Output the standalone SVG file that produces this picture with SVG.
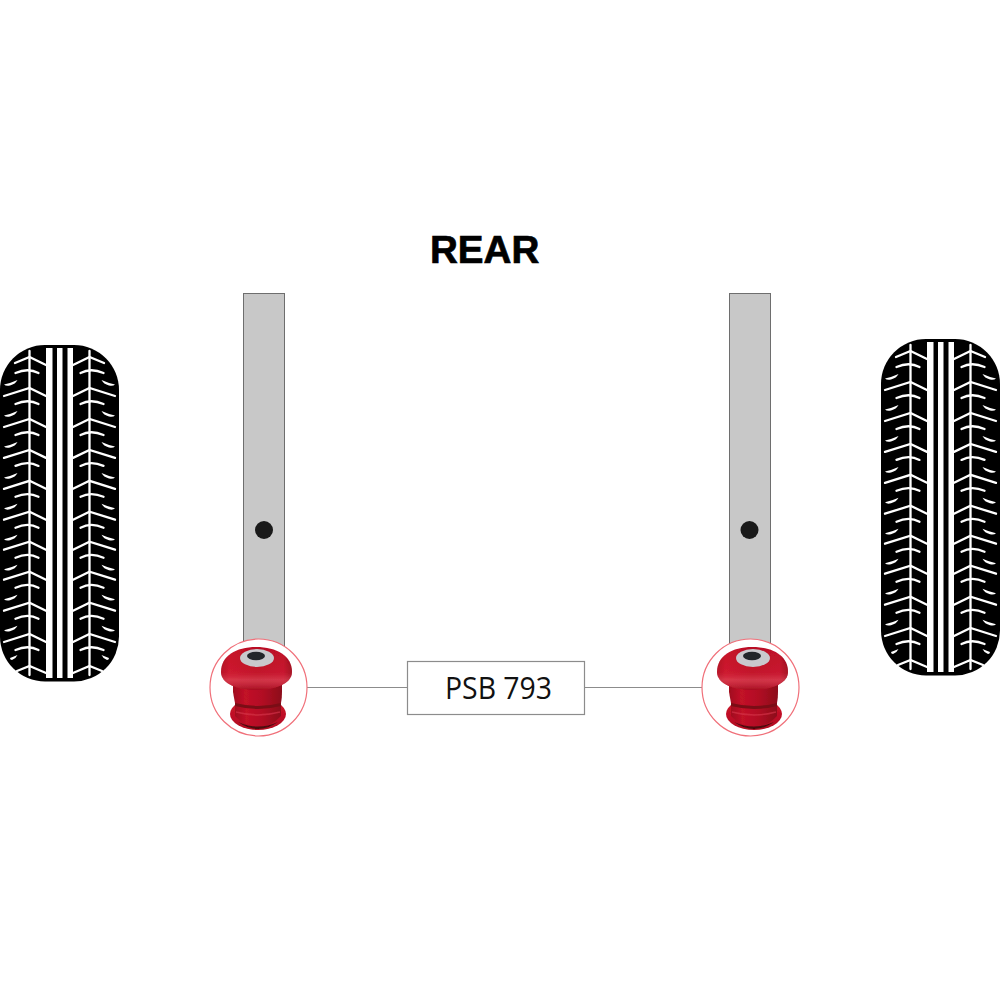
<svg xmlns="http://www.w3.org/2000/svg" width="1000" height="1000" viewBox="0 0 1000 1000">
<style>
.tl{fill:none;stroke:#fff;stroke-width:2.300;stroke-linecap:round;stroke-linejoin:miter}
.tf{fill:#fff}
.post{fill:#c8c8c8;stroke:#6e6e6e;stroke-width:1}
.hole{fill:#1a1a1a}
.ring{fill:#fff;stroke:#f0707a;stroke-width:1.200}
.conn{fill:none;stroke:#8c8c8c;stroke-width:1.200}
.title{font-family:"Liberation Sans",Arial,sans-serif;font-weight:700;font-size:38.600px;fill:#000;stroke:#000;stroke-width:.7}
.lab{font-family:"Open Sans","Noto Sans",sans-serif;font-size:30.500px;fill:#111}
</style>
<defs>
<linearGradient id="capG" x1="0" y1="0" x2="1" y2="0"><stop offset="0" stop-color="#a80e20"/><stop offset=".12" stop-color="#c8142a"/><stop offset=".5" stop-color="#b80f24"/><stop offset=".88" stop-color="#c0122a"/><stop offset="1" stop-color="#8e0a1a"/></linearGradient>
<linearGradient id="capV" x1="0" y1="0" x2="0" y2="1"><stop offset="0" stop-color="#c8112a" stop-opacity="0"/><stop offset=".6" stop-color="#d8283c" stop-opacity=".35"/><stop offset=".76" stop-color="#e85868" stop-opacity=".5"/><stop offset="1" stop-color="#a00c1e" stop-opacity=".8"/></linearGradient>
<linearGradient id="bodyG" x1="0" y1="0" x2="1" y2="0"><stop offset="0" stop-color="#a00c1e"/><stop offset=".25" stop-color="#c21228"/><stop offset=".6" stop-color="#b20e24"/><stop offset="1" stop-color="#8c0a1a"/></linearGradient>
<linearGradient id="flG" x1="0" y1="0" x2="0" y2="1"><stop offset="0" stop-color="#d0142c"/><stop offset="1" stop-color="#b00e22"/></linearGradient>
<filter id="soft" x="-10%" y="-10%" width="120%" height="120%"><feGaussianBlur stdDeviation=".7"/></filter>
<g id="unit">
<path class="tl" d="M4 8L29.500 0L46 8"/>
<path class="tl" d="M15.500 16Q28 10.500 38.500 16"/>
<path class="tf" d="M4 27.500Q11 26 17.500 23Q15.500 27 10 28.500Q6 29.500 4 27.500Z"/>
</g>
<g id="half">
<path class="tl" d="M29.500 351V675"/>
<path class="tl" d="M15 363L29.500 357L46 365"/>
<path class="tl" d="M15.500 373Q28 367.500 38.500 373"/>
<path class="tf" d="M4 384.500Q11 383 17.500 380Q15.500 384 10 385.500Q6 386.500 4 384.500Z"/>
<use href="#unit" y="388"/>
<use href="#unit" y="419"/>
<use href="#unit" y="449.900"/>
<use href="#unit" y="480.800"/>
<use href="#unit" y="511.700"/>
<use href="#unit" y="541.700"/>
<use href="#unit" y="571.700"/>
<use href="#unit" y="602.700"/>
<path class="tl" d="M4 642L29.500 634L46 642"/>
<path class="tl" d="M15.500 650Q28 644.500 38.500 650"/>
<path class="tf" d="M10 658Q14 656.500 17.500 655Q16 658.500 12 660Q10 660 10 658Z"/>
<path class="tl" d="M17 671L29.500 666L46 673"/>
</g>
<g id="tire">
<rect x="0" y="345" width="119" height="336.500" rx="45" ry="45" fill="#000"/>
<use href="#half"/>
<use href="#half" transform="translate(119 0) scale(-1 1)"/>
<rect class="tf" x="46" y="348" width="6.500" height="330"/>
<rect class="tf" x="57" y="348" width="5.500" height="330"/>
<rect class="tf" x="67.500" y="348" width="5.500" height="330"/>
</g>
<g id="bush" filter="url(#soft)">
<ellipse cx="258" cy="714" rx="28" ry="16" fill="url(#flG)"/>
<path d="M235 700H281L281 716Q271 727 258 727Q245 727 235 716Z" fill="url(#bodyG)"/>
<path d="M238 722Q258 731 278 722Q268 729 258 729Q248 729 238 722Z" fill="#4d0710"/>
<path d="M233 678H282L282 692Q282 698 281 703Q258 709 235 703Q234 698 233 692Z" fill="url(#bodyG)"/>
<path d="M235 703Q258 709 281 703L281 706Q258 712 235 706Z" fill="#7a0814"/>
<path d="M236 712Q258 718 280 712" fill="none" stroke="#d8384c" stroke-width="1.400" opacity=".6"/>
<path d="M221 672C221 656 236 647 256 647C277 647 292 656 292 672C292 684 274 690 256 690C238 690 221 684 221 672Z" fill="url(#capG)"/>
<path d="M221 672C221 656 236 647 256 647C277 647 292 656 292 672C292 684 274 690 256 690C238 690 221 684 221 672Z" fill="url(#capV)"/>
<ellipse cx="257" cy="658" rx="17" ry="9" fill="#c9c9cd"/>
<ellipse cx="256" cy="656" rx="9" ry="4.200" fill="#22262c"/>
</g>
</defs>
<g id="title"><text class="title" x="430" y="263.300">REAR</text></g>
<g id="tire-left"><use href="#tire"/></g>
<g id="tire-right"><use href="#tire" transform="translate(881 -6)"/></g>
<g id="post-left"><rect class="post" x="243.500" y="293.500" width="41" height="360"/><circle class="hole" cx="264" cy="530" r="9"/></g>
<g id="post-right"><rect class="post" x="729.500" y="293.500" width="41" height="360"/><circle class="hole" cx="749.500" cy="530" r="9"/></g>
<g id="connectors">
<path class="conn" d="M307 687.500H407.500"/>
<path class="conn" d="M584.500 687.500H702"/>
</g>
<g id="bushing-left"><circle class="ring" cx="258.500" cy="687.500" r="48.500"/><use href="#bush"/></g>
<g id="bushing-right"><circle class="ring" cx="750.500" cy="687.500" r="48.500"/><use href="#bush" transform="translate(496 0)"/></g>
<g id="label"><rect x="407.500" y="661.500" width="177" height="53" fill="#fff" stroke="#8c8c8c" stroke-width="1.200"/><text class="lab" x="445" y="699.300" textLength="107" lengthAdjust="spacingAndGlyphs">PSB 793</text></g>
</svg>
